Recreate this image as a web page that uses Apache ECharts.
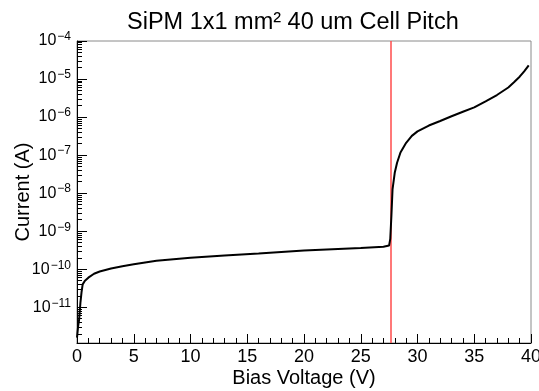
<!DOCTYPE html>
<html>
<head>
<meta charset="UTF-8">
<title>SiPM IV curve</title>
<script src="https://cdn.jsdelivr.net/npm/echarts@6/dist/echarts.min.js"></script>
<style>
  html, body { margin: 0; padding: 0; background: #fff; }
  #main { width: 539px; height: 391px; }
</style>
</head>
<body>
<div id="main"></div>
<script>
const voltage = [0.0, 0.1, 0.18, 0.3, 0.4, 0.5, 0.7, 1.0, 1.5, 2, 3, 4, 5, 7, 10, 13, 16, 20, 23, 25, 27, 27.5,
                 27.6, 27.7, 27.8, 28.0, 28.2, 28.5, 29, 29.5, 30, 31, 32, 33, 34, 35, 36, 37, 38, 38.5, 39, 39.4, 39.8];
const current = [1.6e-12, 3.2e-12, 4.5e-12, 1.3e-11, 2.5e-11, 4.0e-11, 5.0e-11, 6.0e-11, 7.6e-11, 8.7e-11,
                 1.05e-10, 1.2e-10, 1.35e-10, 1.66e-10, 2.0e-10, 2.3e-10, 2.6e-10, 3.1e-10, 3.4e-10, 3.6e-10,
                 3.9e-10, 4.2e-10, 6.3e-10, 2.5e-9, 1.26e-8, 3.5e-8, 6.3e-8, 1.17e-7, 2.1e-7, 3.2e-7, 4.2e-7,
                 6.0e-7, 7.9e-7, 1.05e-6, 1.38e-6, 1.8e-6, 2.6e-6, 3.8e-6, 6.0e-6, 8.2e-6, 1.15e-5, 1.6e-5, 2.3e-5];
const breakdownV = 27.62;
const xTicks = [0, 5, 10, 15, 20, 25, 30, 35, 40];

const chart = echarts.init(document.getElementById('main'), null, { renderer: 'canvas' });
const font = 'Liberation Sans, Arial, sans-serif';

const option = {
  animation: false,
  title: {
    text: 'SiPM 1x1 mm\u00B2 40 um Cell Pitch',
    left: 122,
    top: 6,
    textStyle: { fontFamily: font, fontSize: 23.5, fontWeight: 'normal', color: '#000' }
  },
  grid: {
    left: 77, top: 41, right: 8, bottom: 48,
    outerBoundsMode: 'none',
    containLabel: false,
    show: true, borderColor: '#8a8a8a', borderWidth: 1
  },
  xAxis: {
    type: 'value',
    min: 0, max: 40, interval: 5,
    name: 'Bias Voltage (V)',
    nameLocation: 'middle',
    nameGap: 25,
    nameMoveOverlap: false,
    nameTextStyle: { fontFamily: font, fontSize: 20, color: '#000' },
    axisLine: { lineStyle: { color: '#000', width: 1 } },
    axisTick: { inside: true, length: 9, lineStyle: { color: '#000' } },
    minorTick: { show: true, splitNumber: 5, length: 5, lineStyle: { color: '#000' } },
    splitLine: { show: false },
    axisLabel: {
      fontFamily: font, fontSize: 18, color: '#000', margin: 5,
      formatter: v => xTicks.indexOf(v) >= 0 ? String(v) : ''
    }
  },
  yAxis: {
    type: 'log',
    logBase: 10,
    min: 1.15e-12, max: 1e-4,
    name: 'Current (A)',
    nameLocation: 'middle',
    nameRotate: 90,
    nameGap: 44,
    nameMoveOverlap: false,
    nameTextStyle: { fontFamily: font, fontSize: 20, color: '#000' },
    axisLine: { show: true, lineStyle: { color: '#000', width: 1 } },
    axisTick: { inside: true, length: 10, lineStyle: { color: '#000' } },
    minorTick: { show: true, splitNumber: 9, length: 5, lineStyle: { color: '#000' } },
    splitLine: { show: false },
    axisLabel: {
      margin: 6,
      fontFamily: font, fontSize: 16, color: '#000',
      formatter: function (v) {
        const e = Math.log10(v);
        if (Math.abs(e - Math.round(e)) > 0.01) return '';
        return '10{s|\u2212' + Math.abs(Math.round(e)) + '}';
      },
      rich: {
        s: { fontFamily: font, fontSize: 12, color: '#000', verticalAlign: 'top', padding: [0, 0, 8, 1] }
      }
    }
  },
  series: [{
    type: 'line',
    data: voltage.map((v, i) => [v, current[i]]),
    showSymbol: false,
    lineStyle: { color: '#000', width: 2 },
    clip: true,
    z: 3,
    markLine: {
      silent: true,
      symbol: 'none',
      label: { show: false },
      lineStyle: { color: '#ff4b4b', width: 1.5, type: 'solid' },
      data: [{ xAxis: breakdownV }],
      z: 2
    }
  }]
};

chart.setOption(option);
</script>
</body>
</html>
